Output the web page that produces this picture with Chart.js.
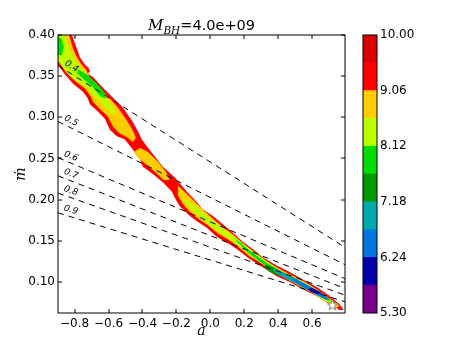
<!DOCTYPE html>
<html><head><meta charset="utf-8">
<script src="https://cdn.jsdelivr.net/npm/chart.js@4.4.1/dist/chart.umd.min.js"></script>
<style>
html,body{margin:0;padding:0;background:#fff;}
#wrap{position:relative;width:463px;height:348px;overflow:hidden;}
canvas{position:absolute;left:0;top:0;}
</style></head><body>
<div id="wrap"><canvas id="main" width="463" height="348"></canvas><canvas id="cbar" width="463" height="348"></canvas></div>
<script>
// ---------- data ----------
const xRange = [-0.898, 0.794];
const yRange = [0.0623, 0.40];
const xTicks = [-0.8, -0.6, -0.4, -0.2, 0.0, 0.2, 0.4, 0.6];
const yTicks = [0.10, 0.15, 0.20, 0.25, 0.30, 0.35, 0.40];

const levels = [5.30, 5.77, 6.24, 6.71, 7.18, 7.65, 8.12, 8.59, 9.06, 9.53, 10.00];
const levelColors = ['#770088','#0000aa','#0077dd','#00aaaa','#009900','#00dd00','#bbff00','#ffcc00','#ff0000','#dd0000'];
const cbarTicks = [5.30, 6.24, 7.18, 8.12, 9.06, 10.00];

// dashed reference lines (value labels, y at left and right edge)
const lineLabels = ['0.4','0.5','0.6','0.7','0.8','0.9'];
const lineX = [-0.898, 0.794];
const lineLeftY  = [0.363, 0.295, 0.251, 0.229, 0.208, 0.184];
const lineRightY = [0.142, 0.121, 0.104, 0.092, 0.084, 0.076];

// best-fit point
const starPoint = [0.72, 0.072];

// filled contour regions (a, mdot) outlines
const redOuter = [[-0.9,0.400],[-0.816,0.400],[-0.786,0.383],[-0.769,0.373],[-0.739,0.364],[-0.717,0.360],[-0.710,0.356],[-0.722,0.353],[-0.692,0.349],[-0.639,0.337],[-0.580,0.325],[-0.521,0.313],[-0.462,0.296],[-0.427,0.283],[-0.404,0.273],[-0.345,0.257],[-0.280,0.240],[-0.209,0.227],[-0.139,0.210],[-0.080,0.197],[-0.044,0.188],[0.015,0.180],[0.074,0.170],[0.132,0.160],[0.191,0.149],[0.250,0.140],[0.309,0.130],[0.391,0.120],[0.468,0.112],[0.545,0.103],[0.627,0.094],[0.703,0.083],[0.762,0.073],[0.786,0.066],
  [0.762,0.066],[0.703,0.073],[0.627,0.083],[0.545,0.091],[0.468,0.100],[0.391,0.107],[0.309,0.118],[0.232,0.128],[0.156,0.140],[0.097,0.148],[0.038,0.155],[-0.021,0.166],[-0.080,0.174],[-0.121,0.180],[-0.180,0.192],[-0.203,0.200],[-0.227,0.210],[-0.280,0.221],[-0.339,0.231],[-0.398,0.240],[-0.415,0.249],[-0.457,0.261],[-0.504,0.273],[-0.551,0.277],[-0.592,0.285],[-0.621,0.298],[-0.663,0.307],[-0.710,0.316],[-0.722,0.323],[-0.751,0.331],[-0.810,0.341],[-0.857,0.352],[-0.9,0.364]];
const orangeUpper = [[-0.9,0.400],[-0.833,0.400],[-0.810,0.384],[-0.792,0.375],[-0.763,0.365],[-0.733,0.358],[-0.710,0.348],[-0.657,0.336],[-0.598,0.324],[-0.545,0.312],[-0.492,0.296],[-0.457,0.284],[-0.439,0.275],
  [-0.457,0.270],[-0.492,0.276],[-0.539,0.281],[-0.574,0.289],[-0.604,0.301],[-0.645,0.309],[-0.692,0.319],[-0.704,0.325],[-0.739,0.335],[-0.798,0.344],[-0.851,0.355],[-0.9,0.369]];
const orangeMid = [[-0.415,0.263],[-0.368,0.258],[-0.309,0.246],[-0.262,0.234],[-0.239,0.224],[-0.274,0.224],[-0.327,0.234],[-0.380,0.243],[-0.427,0.251],[-0.451,0.258]];
const orangeLower = [[-0.191,0.217],[-0.133,0.206],[-0.074,0.194],[-0.033,0.186],[0.020,0.176],[0.079,0.166],[0.138,0.157],[0.197,0.146],[0.256,0.136],[0.315,0.126],[0.397,0.117],[0.468,0.109],[0.545,0.101],[0.627,0.091],[0.703,0.080],[0.762,0.071],
  [0.739,0.068],[0.686,0.076],[0.615,0.085],[0.539,0.094],[0.462,0.102],[0.386,0.111],[0.309,0.122],[0.232,0.131],[0.162,0.143],[0.103,0.152],[0.044,0.159],[-0.015,0.169],[-0.074,0.177],[-0.121,0.185],[-0.162,0.195],[-0.191,0.205]];
const ygUpper = [[-0.9,0.400],[-0.863,0.400],[-0.833,0.385],[-0.816,0.376],[-0.786,0.366],[-0.757,0.359],[-0.727,0.348],[-0.674,0.336],[-0.622,0.325],[-0.580,0.314],[-0.557,0.306],
  [-0.580,0.304],[-0.616,0.312],[-0.657,0.320],[-0.686,0.326],[-0.722,0.335],[-0.774,0.342],[-0.827,0.350],[-0.874,0.362],[-0.9,0.371]];
const ygLower = [[-0.156,0.202],[-0.091,0.192],[-0.021,0.181],[0.044,0.170],[0.115,0.159],[0.185,0.148],[0.256,0.137],[0.327,0.126],[0.409,0.115],[0.480,0.108],[0.556,0.100],[0.633,0.090],[0.703,0.079],[0.751,0.072],
  [0.727,0.072],[0.674,0.077],[0.604,0.087],[0.527,0.095],[0.451,0.104],[0.374,0.113],[0.297,0.123],[0.226,0.134],[0.156,0.146],[0.085,0.156],[0.015,0.166],[-0.056,0.178],[-0.121,0.191],[-0.156,0.199]];
const greenCorner = [[-0.9,0.398],[-0.879,0.396],[-0.863,0.386],[-0.875,0.375],[-0.9,0.376]];
const greenStreak = [[-0.780,0.358],[-0.733,0.353],[-0.674,0.342],[-0.627,0.331],[-0.616,0.323],[-0.645,0.325],[-0.698,0.338],[-0.757,0.348],[-0.786,0.354]];
const greenLower = [[0.144,0.153],[0.232,0.138],[0.327,0.124],[0.409,0.114],[0.486,0.106],[0.562,0.097],[0.639,0.087],[0.709,0.078],
  [0.697,0.077],[0.621,0.087],[0.545,0.095],[0.468,0.104],[0.386,0.113],[0.303,0.123],[0.232,0.134],[0.162,0.148]];
const darkGreenBlob = [[0.327,0.121],[0.380,0.117],[0.433,0.110],[0.409,0.107],[0.350,0.112],[0.315,0.118]];
const tealCore = [[0.374,0.117],[0.456,0.109],[0.539,0.100],[0.621,0.090],[0.700,0.080],[0.692,0.078],[0.604,0.087],[0.515,0.097],[0.433,0.105],[0.374,0.113]];
const blueCore = [[0.468,0.107],[0.556,0.098],[0.645,0.088],[0.700,0.079],[0.674,0.079],[0.586,0.089],[0.497,0.100]];
const darkBlueCore = [[0.598,0.093],[0.656,0.087],[0.633,0.085],[0.574,0.091]];

// region -> level index into levelColors
const regions = [
  [redOuter, 8], [orangeUpper, 7], [orangeMid, 7], [orangeLower, 7],
  [ygUpper, 6], [ygLower, 6], [greenCorner, 5], [greenStreak, 5], [greenLower, 5],
  [darkGreenBlob, 4], [tealCore, 3], [blueCore, 2], [darkBlueCore, 1]
];

// ---------- build ----------
const toPts = arr => { const p = arr.map(([x,y]) => ({x, y})); p.push({x: arr[0][0], y: arr[0][1]}); return p; };
const datasets = [];
regions.forEach(([poly, lev], i) => {
  datasets.push({
    data: toPts(poly), showLine: true, fill: 'shape', tension: 0,
    backgroundColor: levelColors[lev], borderColor: 'rgba(0,0,0,0)', borderWidth: 0,
    pointRadius: 0, order: 100 - i
  });
});
lineLabels.forEach((lab, i) => {
  datasets.push({
    data: [{x: lineX[0], y: lineLeftY[i]}, {x: lineX[1], y: lineRightY[i]}],
    showLine: true, fill: false, borderColor: '#000', borderWidth: 1, borderDash: [6, 5],
    pointRadius: 0, order: 10
  });
});
// star marker image
const starImg = document.createElement('canvas');
starImg.width = 13; starImg.height = 13;
(() => {
  const c = starImg.getContext('2d');
  c.beginPath();
  for (let k = 0; k < 10; k++) {
    const r = k % 2 === 0 ? 5.5 : 2.3;
    const a = -Math.PI / 2 + k * Math.PI / 5;
    const px = 6.5 + r * Math.cos(a), py = 6.8 + r * Math.sin(a);
    k === 0 ? c.moveTo(px, py) : c.lineTo(px, py);
  }
  c.closePath();
  c.fillStyle = '#fff'; c.fill();
  c.strokeStyle = '#777'; c.lineWidth = 1; c.stroke();
})();
datasets.push({ data: [{x: starPoint[0], y: starPoint[1]}], pointStyle: starImg, pointRadius: 6, showLine: false, order: 0 });

const fmtMinus = v => (v < 0 ? '\u2212' : '') + Math.abs(v).toFixed(1);

const mainDeco = {
  id: 'mainDeco',
  afterDatasetsDraw(chart) {
    const {ctx, chartArea: a, scales: {x, y}} = chart;
    ctx.save();
    ctx.strokeStyle = '#000'; ctx.lineWidth = 1;
    ctx.strokeRect(Math.round(a.left), Math.round(a.top), Math.round(a.right) - Math.round(a.left), Math.round(a.bottom) - Math.round(a.top));
    ctx.beginPath();
    xTicks.forEach(v => { const p = Math.round(x.getPixelForValue(v)); ctx.moveTo(p, a.bottom); ctx.lineTo(p, a.bottom - 4); ctx.moveTo(p, a.top); ctx.lineTo(p, a.top + 4); });
    yTicks.forEach(v => { const p = Math.round(y.getPixelForValue(v)); ctx.moveTo(a.left, p); ctx.lineTo(a.left + 4, p); ctx.moveTo(a.right, p); ctx.lineTo(a.right - 4, p); });
    ctx.stroke();
    // line labels
    ctx.fillStyle = '#000';
    ctx.font = 'italic 9px "DejaVu Sans"';
    ctx.textAlign = 'left'; ctx.textBaseline = 'alphabetic';
    lineLabels.forEach((lab, i) => {
      const x0 = x.getPixelForValue(lineX[0]), y0 = y.getPixelForValue(lineLeftY[i]);
      const x1 = x.getPixelForValue(lineX[1]), y1 = y.getPixelForValue(lineRightY[i]);
      const ang = Math.atan2(y1 - y0, x1 - x0);
      ctx.save();
      ctx.translate(x0 + 4, y0 + 4 * Math.tan(ang));
      ctx.rotate(ang);
      ctx.fillText(lab, 0, -4);
      ctx.restore();
    });
    // title
    const cx = (a.left + a.right) / 2, by = 30;
    const fM = 'italic 15px "DejaVu Serif"', fS = 'italic 10.5px "DejaVu Serif"', fR = '14.5px "DejaVu Sans"';
    ctx.font = fM; const wM = ctx.measureText('M').width;
    ctx.font = fS; const wS = ctx.measureText('BH').width;
    ctx.font = fR; const wR = ctx.measureText('=4.0e+09').width;
    let sx = cx - (wM + wS + wR) / 2;
    ctx.font = fM; ctx.fillText('M', sx, by); sx += wM;
    ctx.font = fS; ctx.fillText('BH', sx, by + 4); sx += wS;
    ctx.font = fR; ctx.fillText('=4.0e+09', sx, by);
    // axis labels
    ctx.textAlign = 'center';
    ctx.font = 'italic 14px "DejaVu Serif"';
    ctx.fillText('a', cx, 335);
    ctx.save();
    ctx.translate(25, (a.top + a.bottom) / 2);
    ctx.rotate(-Math.PI / 2);
    ctx.fillText('\u1E41', 0, 0);
    ctx.restore();
    ctx.restore();
  }
};

new Chart(document.getElementById('main'), {
  type: 'scatter',
  data: { datasets },
  options: {
    responsive: false, animation: false, devicePixelRatio: 1, events: [],
    layout: { padding: { left: 0, top: 35, right: 118, bottom: 0 } },
    plugins: { legend: { display: false }, tooltip: { enabled: false } },
    scales: {
      x: {
        type: 'linear', min: xRange[0], max: xRange[1],
        grid: { display: false, drawTicks: false }, border: { display: false },
        afterBuildTicks: s => { s.ticks = xTicks.map(v => ({value: v})); },
        afterFit: s => { s.height = 35; },
        ticks: { padding: 4, color: '#000', font: { family: 'DejaVu Sans', size: 12 }, callback: v => fmtMinus(v), maxRotation: 0, autoSkip: false }
      },
      y: {
        type: 'linear', min: yRange[0], max: yRange[1],
        grid: { display: false, drawTicks: false }, border: { display: false },
        afterBuildTicks: s => { s.ticks = yTicks.map(v => ({value: v})); },
        afterFit: s => { s.width = 58; },
        ticks: { padding: 3, color: '#000', font: { family: 'DejaVu Sans', size: 12 }, callback: v => v.toFixed(2), autoSkip: false }
      }
    }
  },
  plugins: [mainDeco]
});

// ---------- colorbar ----------
const cbDatasets = levelColors.map((c, i) => ({
  data: [[levels[i], levels[i + 1]]], backgroundColor: c, borderWidth: 0,
  barPercentage: 1, categoryPercentage: 1, grouped: false
}));
const cbDeco = {
  id: 'cbDeco',
  afterDatasetsDraw(chart) {
    const {ctx, chartArea: a} = chart;
    ctx.save();
    ctx.strokeStyle = '#000'; ctx.lineWidth = 1;
    ctx.strokeRect(Math.round(a.left), Math.round(a.top), Math.round(a.right) - Math.round(a.left), Math.round(a.bottom) - Math.round(a.top));
    ctx.restore();
  }
};
new Chart(document.getElementById('cbar'), {
  type: 'bar',
  data: { labels: ['c'], datasets: cbDatasets },
  options: {
    responsive: false, animation: false, devicePixelRatio: 1, events: [],
    layout: { padding: { left: 363, top: 35, right: 0, bottom: 35 } },
    plugins: { legend: { display: false }, tooltip: { enabled: false } },
    scales: {
      x: { display: false },
      y: {
        position: 'right', min: levels[0], max: levels[levels.length - 1],
        grid: { display: false, drawTicks: false }, border: { display: false },
        afterBuildTicks: s => { s.ticks = cbarTicks.map(v => ({value: v})); },
        afterFit: s => { s.width = 86; },
        ticks: { padding: 3, color: '#000', font: { family: 'DejaVu Sans', size: 12 }, callback: v => v.toFixed(2), autoSkip: false }
      }
    }
  },
  plugins: [cbDeco]
});
</script>
</body></html>
